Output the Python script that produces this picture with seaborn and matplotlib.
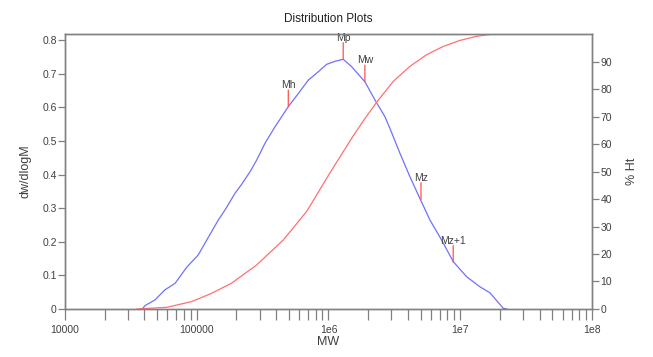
import numpy as np
import pandas as pd
import matplotlib
matplotlib.use('Agg')
import matplotlib.pyplot as plt
import matplotlib.ticker as mticker
import seaborn as sns

# dw/dlogM (blue)
mw_dist = [38600, 40500, 48200, 57400, 68400, 83900, 102800, 119100, 145900,
           163700, 195000, 219300, 253500, 285100, 329600, 392700, 495500,
           590200, 703100, 837500, 968300, 1.119e6, 1.294e6, 1.500e6, 1.892e6,
           2.254e6, 2.685e6, 2.931e6, 3.491e6, 4.159e6, 4.943e6, 5.888e6,
           7.228e6, 8.851e6, 1.119e7, 1.413e7, 1.683e7, 2.123e7, 2.265e7]
dwdlogm = [0.0, 0.010, 0.027, 0.057, 0.076, 0.124, 0.161, 0.205, 0.265,
           0.294, 0.344, 0.371, 0.408, 0.443, 0.493, 0.542, 0.602,
           0.641, 0.681, 0.706, 0.728, 0.737, 0.743, 0.721, 0.676,
           0.622, 0.572, 0.537, 0.463, 0.393, 0.329, 0.265,
           0.205, 0.141, 0.096, 0.066, 0.048, 0.002, 0.0]

# cumulative % Ht (red)
mw_cum = [35200, 59200, 91600, 129800, 184000, 285000, 454000, 684000,
          1.026e6, 1.542e6, 1.892e6, 2.32e6, 3.105e6, 4.16e6, 5.56e6,
          7.43e6, 9.95e6, 1.333e7, 1.782e7, 2.31e7]
pct_ht = [0.0, 0.6, 2.7, 5.7, 9.4, 16.0, 25.1, 35.5, 49.5, 63.0, 69.3,
          75.2, 82.8, 88.3, 92.5, 95.5, 97.7, 99.2, 100.0, 100.0]

# averages marked on the curve
avg_names = ['Mh', 'Mp', 'Mw', 'Mz', 'Mz+1']
avg_mw = [495500, 1.294e6, 1.89e6, 5.04e6, 8.85e6]
avg_val = [0.602, 0.743, 0.676, 0.326, 0.139]

xticks = [1e4, 1e5, 1e6, 1e7, 1e8]
xtick_labels = ['10000', '100000', '1e6', '1e7', '1e8']

sns.set_style('white')
plt.rcParams['font.family'] = ['Liberation Sans', 'DejaVu Sans']

blue = '#7070ff'
red = '#ff7070'
grey = '#808080'
txt = '#404040'

fig = plt.figure(figsize=(6.53, 3.57), dpi=100)
ax = fig.add_axes([0.0995, 0.1345, 0.807, 0.770])
ax2 = ax.twinx()

df_dist = pd.DataFrame({'MW': mw_dist, 'dw/dlogM': dwdlogm})
df_cum = pd.DataFrame({'MW': mw_cum, '% Ht': pct_ht})

sns.lineplot(data=df_dist, x='MW', y='dw/dlogM', color=blue, lw=0.9, ax=ax)
sns.lineplot(data=df_cum, x='MW', y='% Ht', color=red, lw=0.9, ax=ax2)

ax.set_xscale('log')
ax.set_xlim(1e4, 1e8)
ax.set_ylim(0, 0.818)
ax2.set_ylim(0, 100)

ax.set_xticks(xticks)
ax.set_xticklabels(xtick_labels)
ax.xaxis.set_minor_locator(mticker.LogLocator(base=10, subs=np.arange(2, 10)))
ax.xaxis.set_minor_formatter(mticker.NullFormatter())
ax.set_yticks(np.arange(0, 0.81, 0.1))
ax.set_yticklabels(['0'] + [f'{v:.1f}' for v in np.arange(0.1, 0.81, 0.1)])
ax2.set_yticks(np.arange(0, 91, 10))

# Mh, Mp, ... markers
for name, m, v in zip(avg_names, avg_mw, avg_val):
    ax.annotate('', xy=(m, v), xytext=(0, 12), textcoords='offset points',
                arrowprops=dict(arrowstyle='-', color='#ff5050', lw=0.9,
                                shrinkA=0, shrinkB=0))
    ax.annotate(name, xy=(m, v), xytext=(0, 12), textcoords='offset points',
                ha='center', va='bottom', fontsize=7.5, color=txt)

for a in (ax, ax2):
    for s in a.spines.values():
        s.set_color(grey)
        s.set_linewidth(1.0)
        s.set_visible(True)
ax.tick_params(axis='x', which='both', direction='out', length=8, width=0.9,
               color=grey, labelsize=7.5, labelcolor=txt, bottom=True)
ax.tick_params(axis='y', direction='out', length=5, width=0.9, color=grey,
               labelsize=7.5, labelcolor=txt, left=True, pad=1)
ax2.tick_params(axis='y', direction='out', length=5, width=0.9, color=grey,
                labelsize=7.5, labelcolor=txt, right=True, pad=1)

ax.set_xlabel('MW', fontsize=9, color=txt, labelpad=1)
ax.set_ylabel('dw/dlogM', fontsize=9, color=txt, labelpad=8)
ax2.set_ylabel('% Ht', fontsize=9, color=txt, labelpad=10)
ax.set_title('Distribution Plots', fontsize=8.5, color='#202020', pad=9)

fig.savefig('out.png', dpi=100)
